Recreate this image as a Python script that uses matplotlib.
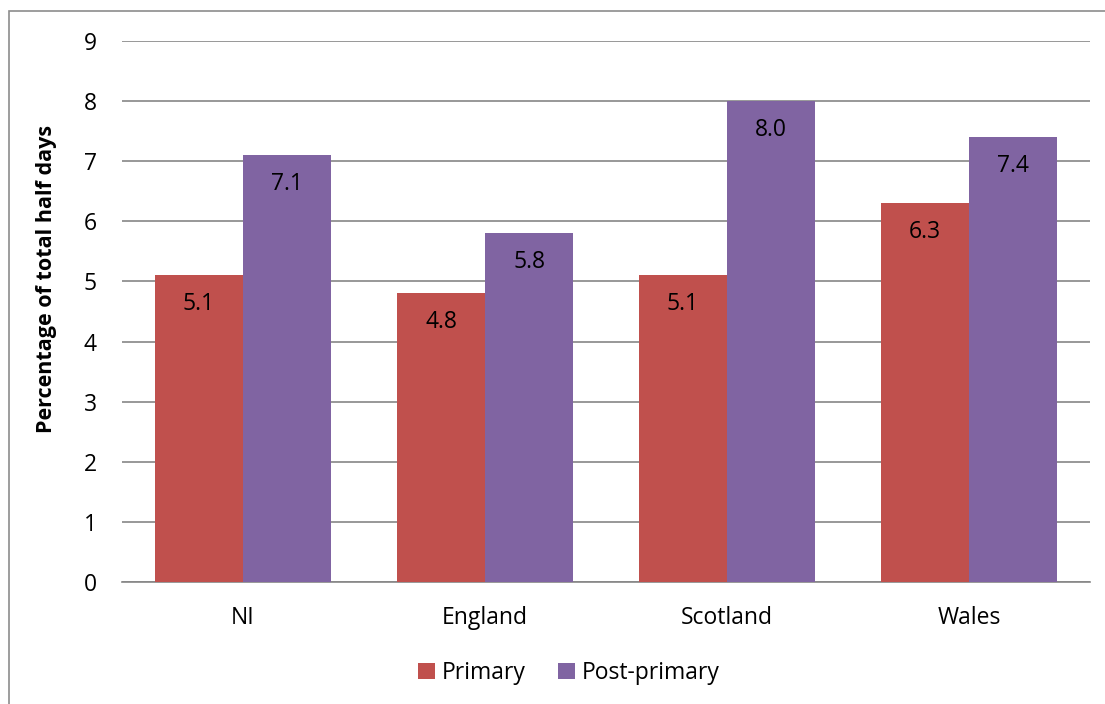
import matplotlib
matplotlib.use("Agg")
import matplotlib.pyplot as plt
import numpy as np
from matplotlib.patches import Rectangle

categories = ["NI", "England", "Scotland", "Wales"]
primary = [5.1, 4.8, 5.1, 6.3]
post_primary = [7.1, 5.8, 8.0, 7.4]
series_names = ["Primary", "Post-primary"]
yticks = list(range(0, 10))

plt.rcParams['font.family'] = ['Open Sans', 'DejaVu Sans']

fig = plt.figure(figsize=(11.05, 7.04), dpi=100)
ax = fig.add_axes([122/1105, 1-582/704, (1090-122)/1105, (582-41)/704])

# outer chart border
fig.patches.append(Rectangle((9/1105, -0.1), 1.2, 1-11/704+0.1, transform=fig.transFigure,
                             fill=False, edgecolor='#8c8c8c', linewidth=1.2))

x = np.arange(len(categories))
w = 0.364
c1, c2 = '#C0504D', '#8064A2'
b1 = ax.bar(x - w/2, primary, w, color=c1, label=series_names[0], zorder=3)
b2 = ax.bar(x + w/2, post_primary, w, color=c2, label=series_names[1], zorder=3)

for bars, vals in ((b1, primary), (b2, post_primary)):
    for r, v in zip(bars, vals):
        ax.text(r.get_x() + r.get_width()/2, v - 0.48, f"{v:.1f}", ha='center', va='center',
                fontsize=16.5, color='black', zorder=4)

ax.set_xlim(-0.5, 3.5)
ax.set_ylim(0, 9)
ax.set_yticks(yticks)
ax.set_xticks(x)
ax.set_xticklabels(categories)
ax.yaxis.grid(True, color='#868686', linewidth=1.2, zorder=0)
for s in ['top', 'right', 'left']:
    ax.spines[s].set_visible(False)
ax.spines['bottom'].set_color('#868686')
ax.spines['bottom'].set_linewidth(1.2)
ax.tick_params(axis='both', length=0, labelsize=16.5)
ax.tick_params(axis='y', pad=18)
ax.tick_params(axis='x', pad=17)
ax.set_ylabel("Percentage of total half days", fontsize=15.5, fontweight='bold')
ax.yaxis.set_label_coords((57-122)/968, (582-279)/541)

fig.legend(handles=[b1, b2], labels=series_names, loc='center', bbox_to_anchor=(569/1105, 1-673/704),
           ncol=2, frameon=False, fontsize=16.5, handlelength=0.75, handleheight=0.75,
           handletextpad=0.3, columnspacing=1.4)

fig.savefig("out.png", dpi=100)
